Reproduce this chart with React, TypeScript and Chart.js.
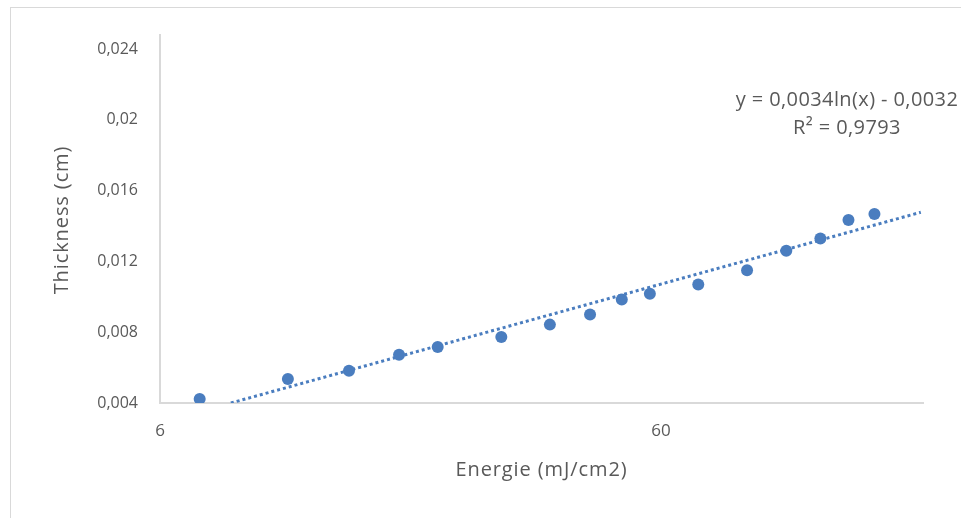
import React, { useEffect, useRef } from "react";
import { Chart, registerables } from "chart.js";

Chart.register(...registerables);

// Energie (mJ/cm2)
const energie = [7.2, 10.8, 14.3, 18.0, 21.5, 28.8, 36.0, 43.3, 50.1, 57.0, 71.2, 89.1, 106.7, 124.8, 142, 160];
// Thickness (cm)
const thickness = [0.00423, 0.00535, 0.00582, 0.00673, 0.00716, 0.00773, 0.00843, 0.0090, 0.00985, 0.01018, 0.0107, 0.0115, 0.0126, 0.0133, 0.01434, 0.01468];

const xTickValues = [6, 60];
const xTickLabels = ["6", "60"];
const yTickValues = [0.004, 0.008, 0.012, 0.016, 0.02, 0.024];
const yTickLabels = ["0,004", "0,008", "0,012", "0,016", "0,02", "0,024"];

// Logarithmic trendline y = a ln(x) + b (as stated on the chart)
const trendA = 0.0034;
const trendB = -0.0032;
const trendXRange = [8.31, 198];
const equationLines = ["y = 0,0034ln(x) - 0,0032", "R² = 0,9793"];
const xTitle = "Energie (mJ/cm2)";
const yTitle = "Thickness (cm)";

const FONT = "'Open Sans', sans-serif";
const TEXT = "#595959";
const BLUE = "#4a7dbf";

export default function App() {
  const ref = useRef<HTMLCanvasElement | null>(null);

  useEffect(() => {
    if (!ref.current) return;
    const trend = trendXRange.map((x) => ({ x, y: trendA * Math.log(x) + trendB }));

    const textPlugin = {
      id: "texts",
      afterDraw(chart: any) {
        const ctx = chart.ctx;
        const area = chart.chartArea;
        ctx.save();
        ctx.fillStyle = TEXT;
        ctx.textAlign = "center";
        ctx.textBaseline = "middle";
        try { ctx.letterSpacing = "0.4px"; } catch (e) {}
        ctx.font = `20px ${FONT}`;
        ctx.fillText(equationLines[0], 847, 100);
        ctx.fillText(equationLines[1], 847, 128);
        try { ctx.letterSpacing = "0.9px"; } catch (e) {}
        ctx.font = `20px ${FONT}`;
        ctx.fillText(xTitle, (area.left + area.right) / 2, 470);
        ctx.translate(62, (area.top + area.bottom) / 2 + 1);
        ctx.rotate(-Math.PI / 2);
        ctx.fillText(yTitle, 0, 0);
        ctx.restore();
      },
    };

    const chart = new Chart(ref.current, {
      type: "scatter",
      data: {
        datasets: [
          {
            data: trend,
            showLine: true,
            borderColor: BLUE,
            borderWidth: 3,
            borderDash: [3, 3],
            pointRadius: 0,
            fill: false,
            order: 2,
          },
          {
            data: energie.map((x, i) => ({ x, y: thickness[i] })),
            backgroundColor: BLUE,
            borderColor: BLUE,
            pointRadius: 6,
            pointBorderWidth: 0,
            order: 1,
          },
        ],
      },
      options: {
        animation: false,
        responsive: false,
        events: [],
        layout: { padding: { left: 0, right: 38, top: 35, bottom: 0 } },
        plugins: { legend: { display: false }, tooltip: { enabled: false } },
        scales: {
          x: {
            type: "logarithmic",
            min: 6,
            max: 200,
            grid: { display: false, drawTicks: false },
            border: { display: true, color: "#d9d9d9", width: 2 },
            afterBuildTicks: (s: any) => {
              s.ticks = xTickValues.map((v) => ({ value: v }));
            },
            afterFit: (s: any) => {
              s.height = 115;
            },
            ticks: {
              autoSkip: false,
              maxRotation: 0,
              padding: 18,
              color: TEXT,
              font: { family: FONT, size: 17 },
              callback: (v: any) => {
                const i = xTickValues.indexOf(Number(v));
                return i >= 0 ? xTickLabels[i] : "";
              },
            },
          },
          y: {
            min: 0.004,
            max: 0.0248,
            grid: { display: false, drawTicks: false },
            border: { display: true, color: "#d9d9d9", width: 2 },
            afterBuildTicks: (s: any) => {
              s.ticks = yTickValues.map((v) => ({ value: v }));
            },
            afterFit: (s: any) => {
              s.width = 160;
            },
            ticks: {
              autoSkip: false,
              padding: 22,
              color: TEXT,
              font: { family: FONT, size: 16 },
              callback: (v: any) => {
                const i = yTickValues.findIndex((t) => Math.abs(t - Number(v)) < 1e-9);
                return i >= 0 ? yTickLabels[i] : "";
              },
            },
          },
        },
      },
      plugins: [textPlugin],
    });
    return () => chart.destroy();
  }, []);

  return (
    <div style={{ position: "fixed", left: 0, top: 0, width: 961, height: 518, overflow: "hidden", background: "#fff" }}>
      <div
        style={{
          position: "absolute",
          left: 10,
          top: 7,
          width: 1000,
          height: 600,
          border: "1px solid #d9d9d9",
        }}
      />
      <canvas ref={ref} width={961} height={518} style={{ position: "absolute", left: 0, top: 0 }} />
    </div>
  );
}
